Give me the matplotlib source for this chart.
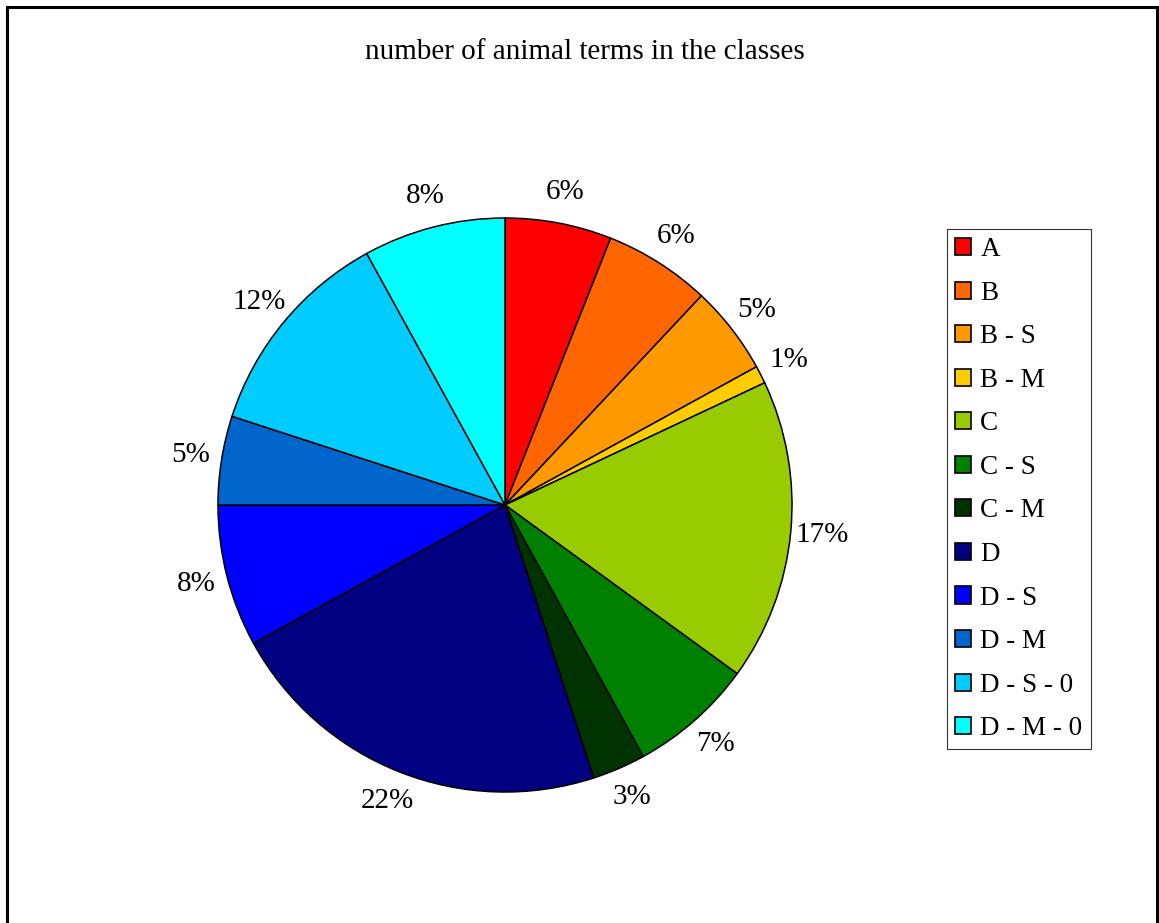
import matplotlib
matplotlib.use("Agg")
import matplotlib.pyplot as plt
from matplotlib.patches import Rectangle, Patch

plt.rcParams['font.family'] = ['Liberation Serif', 'DejaVu Serif']

# class shares (percent)
classes = ["A", "B", "B - S", "B - M", "C", "C - S", "C - M",
           "D", "D - S", "D - M", "D - S - 0", "D - M - 0"]
shares = [6, 6, 5, 1, 17, 7, 3, 22, 8, 5, 12, 8]
colors = ["#FF0000", "#FF6600", "#FF9900", "#FFCC00", "#99CC00", "#008000",
          "#003300", "#000080", "#0000FF", "#0066CC", "#00CCFF", "#00FFFF"]

W, H = 1159, 923
FS = 21
fig = plt.figure(figsize=(W / 100, H / 100), dpi=100)

# outer chart frame (bottom edge runs off the canvas)
fig.patches.append(Rectangle((7 / W, -0.05), (1157 - 7) / W, 1.05 - 7 / H,
                             transform=fig.transFigure, fill=False,
                             edgecolor="black", linewidth=2.2))

cx, cy, r = 505, 505, 287
ax = fig.add_axes([(cx - r) / W, (H - cy - r) / H, 2 * r / W, 2 * r / H])
ax.pie(shares, colors=colors, startangle=90, counterclock=False,
       autopct=lambda p: f"{p:.0f}%", pctdistance=1.11,
       wedgeprops=dict(edgecolor="black", linewidth=1.1),
       textprops=dict(fontsize=FS))
ax.set_xlim(-1, 1)
ax.set_ylim(-1, 1)
ax.set_aspect("equal")
ax.axis("off")

fig.text(585 / W, 1 - 52 / H, "number of animal terms in the classes",
         ha="center", va="center", fontsize=FS)

handles = [Patch(facecolor=c, edgecolor="black", linewidth=1.2) for c in colors]
leg = fig.legend(handles, classes, loc="upper left",
                 bbox_to_anchor=(947 / W, 1 - 229 / H),
                 bbox_transform=fig.transFigure, borderaxespad=0,
                 fontsize=19.5, frameon=True, fancybox=False,
                 handlelength=0.6, handleheight=0.6, handletextpad=0.33,
                 labelspacing=0.685, borderpad=0.3)
leg.get_frame().set_edgecolor("black")
leg.get_frame().set_linewidth(0.8)

fig.savefig("out.png", dpi=100)
